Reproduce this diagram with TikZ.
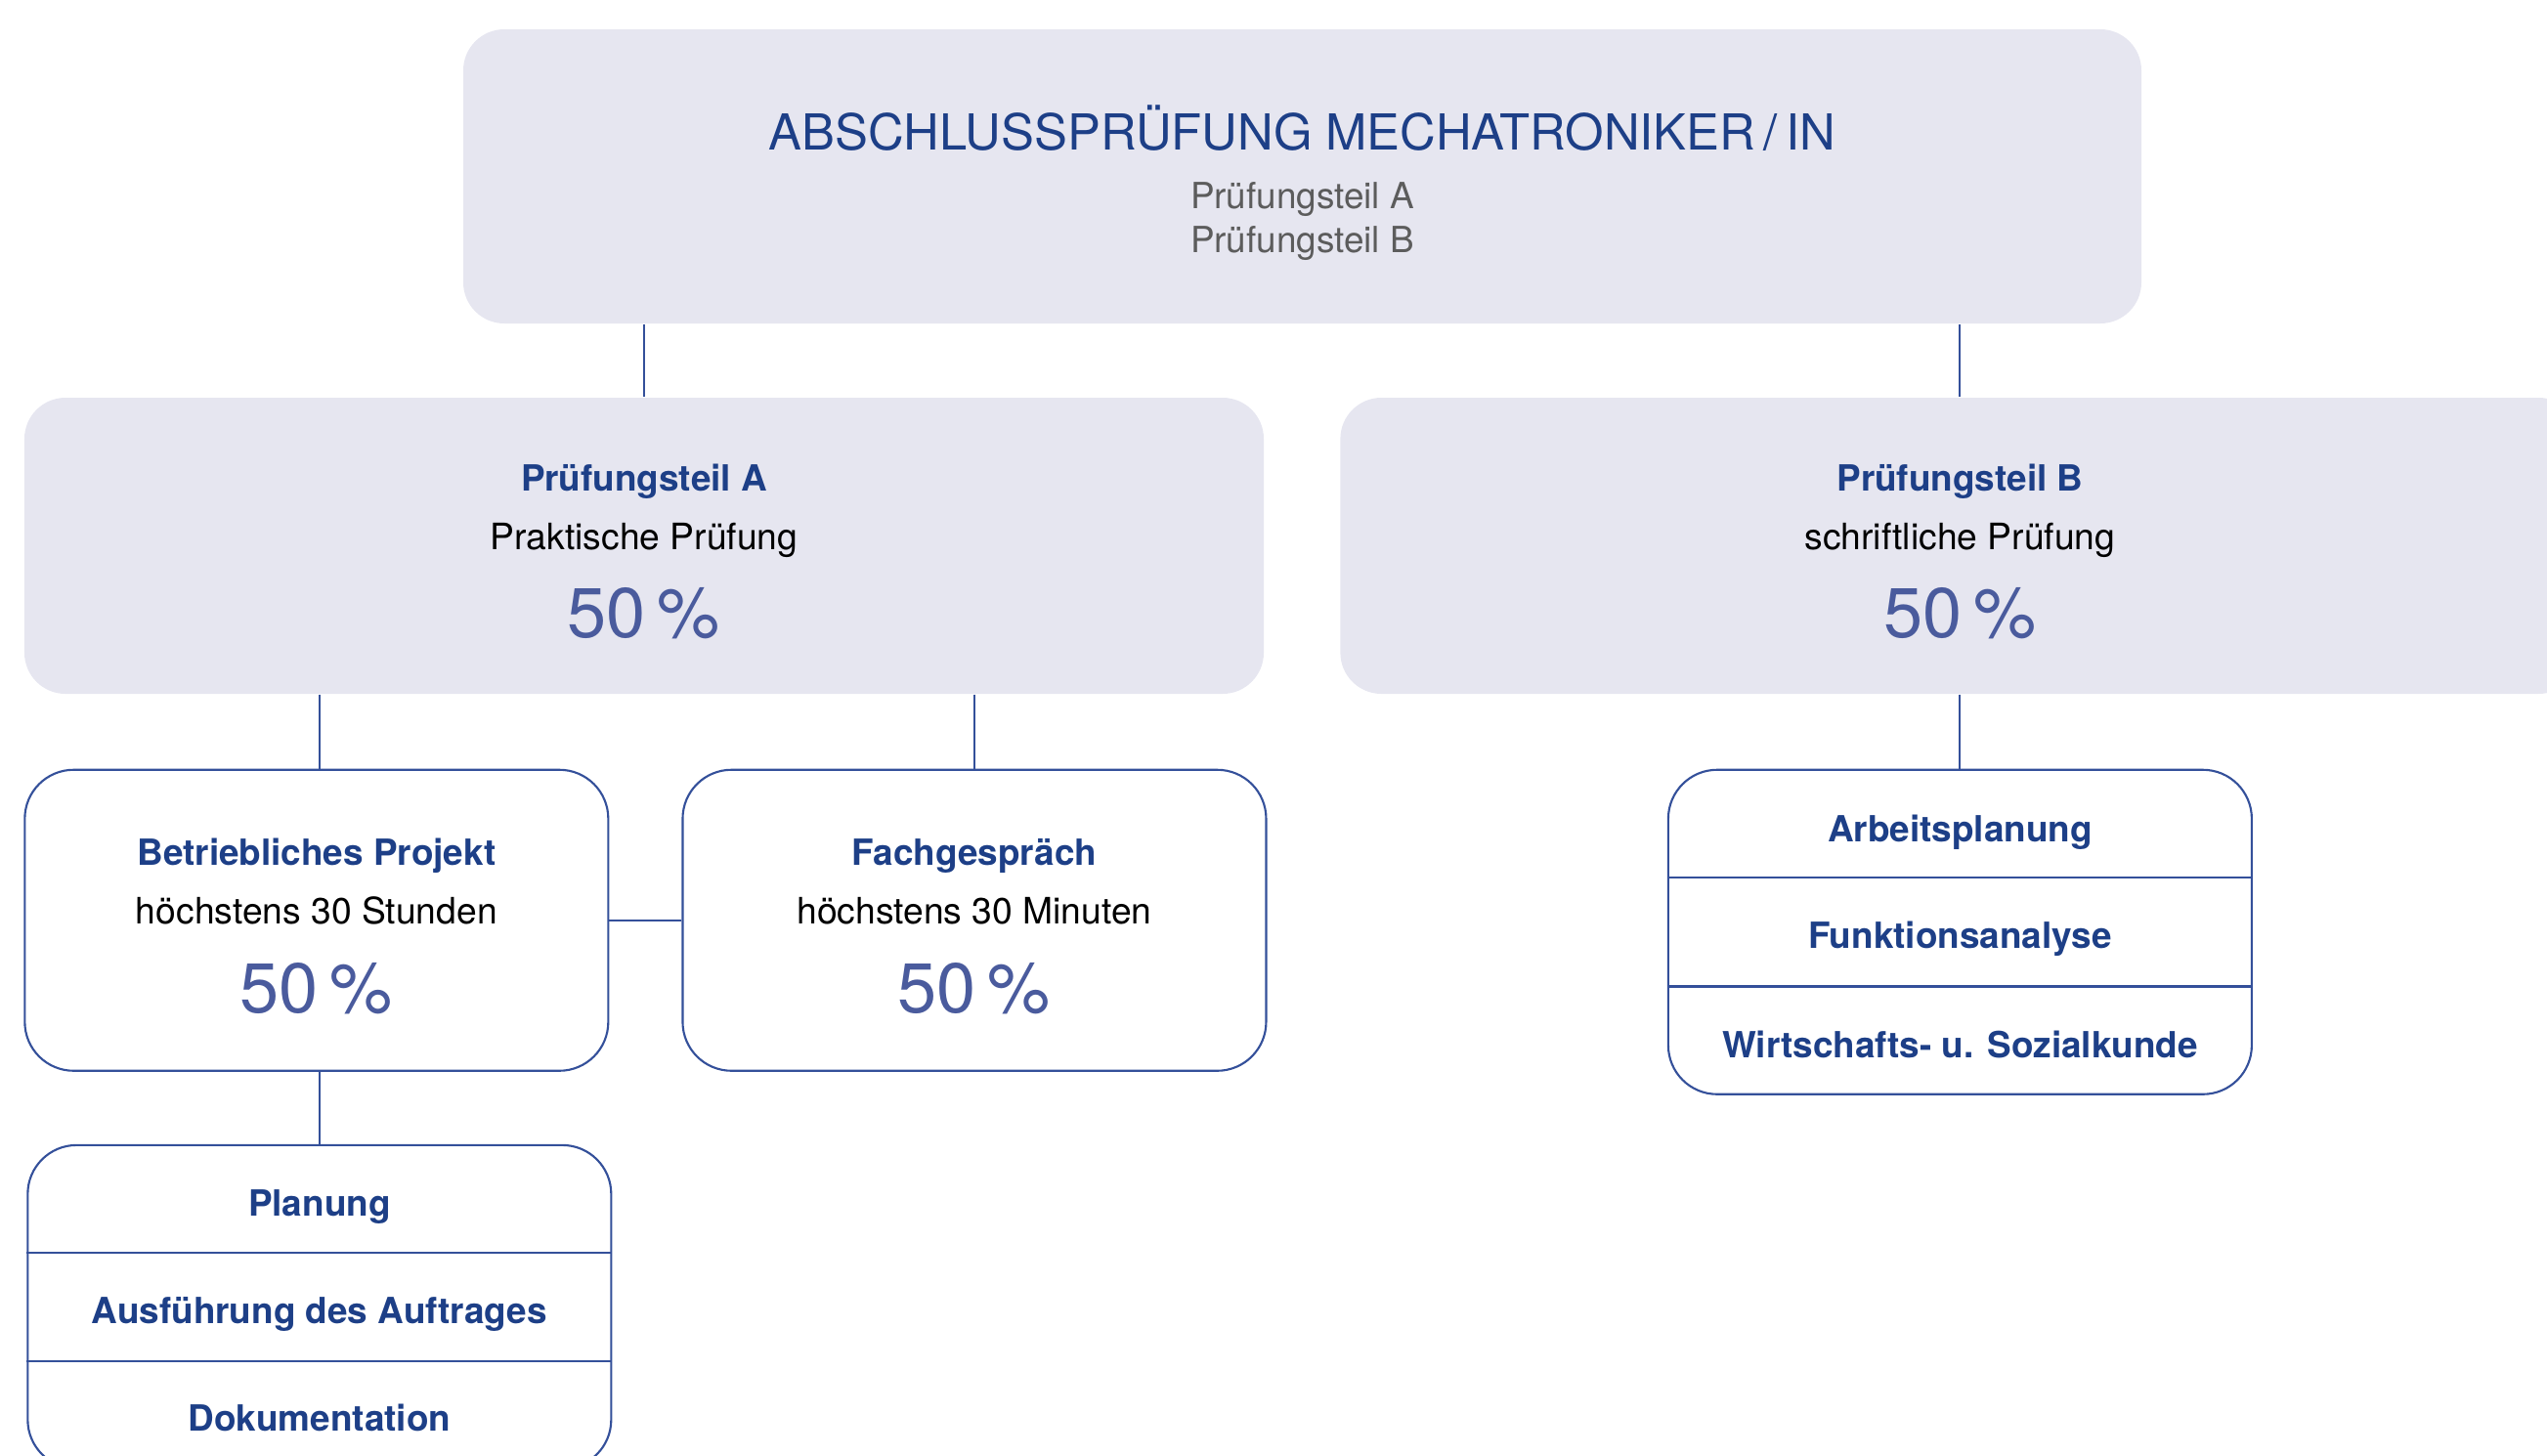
\documentclass[tikz,border=0pt]{standalone}
\usepackage{fontspec}
\setmainfont{TeX Gyre Heros}
\usetikzlibrary{positioning,calc}

\definecolor{boxgray}{HTML}{E6E6F0}
\definecolor{darkblue}{HTML}{1D3F87}
\definecolor{paleblue}{HTML}{4A5B9D}
\definecolor{linecolor}{HTML}{34509A}
\definecolor{subgray}{HTML}{5C5C5C}

\tikzset{
  exam_box/.style={rectangle, rounded corners=0.42cm, fill=boxgray, minimum width=17.17cm, minimum height=3.01cm, inner sep=0pt},
  part_box/.style={rectangle, rounded corners=0.42cm, fill=boxgray, minimum width=12.68cm, minimum height=3.03cm, inner sep=0pt},
  unit_box/.style={rectangle, rounded corners=0.5cm, draw=linecolor, line width=0.6pt, fill=white, minimum width=5.97cm, minimum height=3.08cm, inner sep=0pt},
  list_box/.style={unit_box, minimum height=3.31cm},
  link/.style={draw=linecolor, line width=0.6pt},
  title_text/.style={anchor=base, inner sep=0pt, text=darkblue, font=\fontsize{14.45}{17}\selectfont},
  sub_text/.style={anchor=base, inner sep=0pt, text=subgray, font=\fontsize{10.5}{12}\selectfont},
  head_text/.style={anchor=base, inner sep=0pt, text=darkblue, font=\fontsize{10.5}{12}\selectfont\bfseries},
  body_text/.style={anchor=base, inner sep=0pt, text=black, font=\fontsize{10.6}{12}\selectfont},
  share_text/.style={anchor=base, inner sep=0pt, text=paleblue, font=\fontsize{20.5}{24}\selectfont},
}

\begin{document}
\begin{tikzpicture}
      \useasboundingbox (0,0) rectangle (26.06,-14.89);
      \clip (0,0) rectangle (26.06,-14.89);

      % boxes

      %exam
      \node[exam_box] (exam) at (13.325,-1.805) {};
      %parts
      \node[part_box] (part_a) at (6.59,-5.585) {};
      \node[part_box, right=0.77cm of part_a] (part_b) {};
      %units of part A
      \node[unit_box, below=0.76cm of part_a.south west, anchor=north west] (project_work) {};
      \node[unit_box, right=0.74cm of project_work] (expert_talk) {};
      %lists
      \node[list_box, below=0.74cm of project_work, xshift=0.03cm] (project_steps) {};
      \node[list_box, below=0.76cm of part_b, minimum height=3.32cm] (written_subjects) {};

      % list dividers
      \foreach \listname in {project_steps, written_subjects} {
        \draw[link] ($(\listname.north west)!1/3!(\listname.south west)$) -- ($(\listname.north east)!1/3!(\listname.south east)$);
        \draw[link] ($(\listname.north west)!2/3!(\listname.south west)$) -- ($(\listname.north east)!2/3!(\listname.south east)$);
      }

      % texts
      \node[title_text] (exam_title) at ($(exam.center)+(0,0.275)$) {ABSCHLUSSPRÜFUNG MECHATRONIKER\,/\,IN};
      \node[sub_text] (exam_part_a) at ($(exam.center)+(0,-0.325)$) {Prüfungsteil A};
      \node[sub_text] (exam_part_b) at ($(exam.center)+(0,-0.775)$) {Prüfungsteil B};

      \node[head_text] (part_a_head) at ($(part_a.center)+(0,0.565)$) {Prüfungsteil A};
      \node[body_text] (part_a_kind) at ($(part_a.center)+(0,-0.035)$) {Praktische Prüfung};
      \node[share_text] (part_a_share) at ($(part_a.center)+(0,-0.935)$) {50\,\%};

      \node[head_text] (part_b_head) at ($(part_b.center)+(0,0.565)$) {Prüfungsteil B};
      \node[body_text] (part_b_kind) at ($(part_b.center)+(0,-0.035)$) {schriftliche Prüfung};
      \node[share_text] (part_b_share) at ($(part_b.center)+(0,-0.935)$) {50\,\%};

      \node[head_text] (project_head) at ($(project_work.center)+(0,0.56)$) {Betriebliches Projekt};
      \node[body_text] (project_time) at ($(project_work.center)+(0,-0.04)$) {höchstens 30 Stunden};
      \node[share_text] (project_share) at ($(project_work.center)+(0,-0.95)$) {50\,\%};

      \node[head_text] (talk_head) at ($(expert_talk.center)+(0,0.56)$) {Fachgespräch};
      \node[body_text] (talk_time) at ($(expert_talk.center)+(0,-0.04)$) {höchstens 30 Minuten};
      \node[share_text] (talk_share) at ($(expert_talk.center)+(0,-0.95)$) {50\,\%};

      \node[head_text] (step_planning) at ($(project_steps.north)+(0,-0.74)$) {Planung};
      \node[head_text] (step_execution) at ($(project_steps.north)+(0,-1.84)$) {Ausführung des Auftrages};
      \node[head_text] (step_documentation) at ($(project_steps.north)+(0,-2.94)$) {Dokumentation};

      \node[head_text] (subject_planning) at ($(written_subjects.north)+(0,-0.75)$) {Arbeitsplanung};
      \node[head_text] (subject_analysis) at ($(written_subjects.north)+(0,-1.84)$) {Funktionsanalyse};
      \node[head_text] (subject_economy) at ($(written_subjects.north)+(0,-2.96)$) {Wirtschafts- u. Sozialkunde};

      % edges
      \draw[link] (exam.south -| part_a.north) -- (part_a.north);
      \draw[link] (exam.south -| part_b.north) -- (part_b.north);
      \draw[link] (part_a.south -| project_steps.north) -- (project_work.north -| project_steps.north);
      \draw[link] (part_a.south -| expert_talk.north) -- (expert_talk.north);
      \draw[link] (project_work.east) -- (expert_talk.west);
      \draw[link] (project_work.south -| project_steps.north) -- (project_steps.north);
      \draw[link] (part_b.south) -- (written_subjects.north);

   \end{tikzpicture}
\end{document}
